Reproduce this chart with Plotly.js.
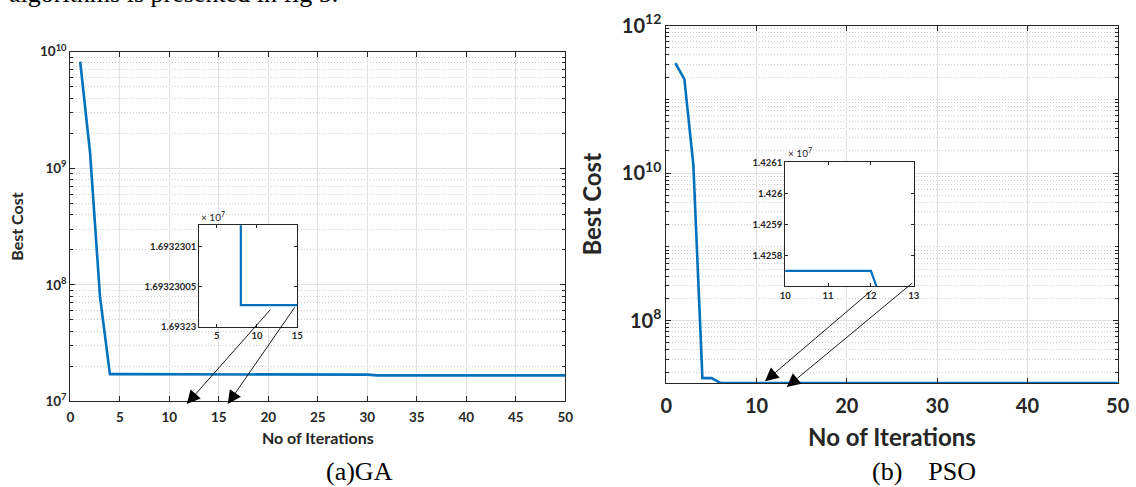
<!DOCTYPE html>
<html>
<head>
<meta charset="utf-8">
<script src="https://cdn.plot.ly/plotly-3.0.1.min.js"></script>
<style>
  html, body { margin: 0; padding: 0; background: #ffffff; }
  #chart { width: 1136px; height: 487px; }
</style>
</head>
<body>
<div id="chart"></div>
<script>
// ---------------- data ----------------
const iterations = [1,2,3,4,5,6,7,8,9,10,11,12,13,14,15,16,17,18,19,20,
  21,22,23,24,25,26,27,28,29,30,31,32,33,34,35,36,37,38,39,40,
  41,42,43,44,45,46,47,48,49,50];

// (a) GA best cost per iteration
const gaBestCost = [8.2e9, 1.35e9, 7.9e7, 1.71e7, 1.71e7, 1.71e7, 1.71e7,
  16932300.27, 16932300.27, 16932300.27, 16932300.27, 16932300.27, 16932300.27,
  16932300.27, 16932300.27, 16932300.27, 16932300.27, 16932300.27, 16932300.27,
  16932300.27, 16932300.27, 16932300.27, 16932300.27, 16932300.27, 16932300.27,
  16932300.27, 16932300.27, 16932300.27, 16932300.27, 16932300.27,
  1.67e7, 1.67e7, 1.67e7, 1.67e7, 1.67e7, 1.67e7, 1.67e7, 1.67e7, 1.67e7, 1.67e7,
  1.67e7, 1.67e7, 1.67e7, 1.67e7, 1.67e7, 1.67e7, 1.67e7, 1.67e7, 1.67e7, 1.67e7];

// (b) PSO best cost per iteration
const psoBestCost = [3.1e11, 1.87e11, 1.28e10, 1.66e7, 1.66e7,
  14257500, 14257500, 14257500, 14257500, 14257500, 14257500, 14257500,
  14253650, 14253650, 14253650, 14253650, 14253650, 14253650, 14253650, 14253650,
  14253650, 14253650, 14253650, 14253650, 14253650, 14253650, 14253650, 14253650,
  14253650, 14253650, 14253650, 14253650, 14253650, 14253650, 14253650, 14253650,
  14253650, 14253650, 14253650, 14253650, 14253650, 14253650, 14253650, 14253650,
  14253650, 14253650, 14253650, 14253650, 14253650, 14253650];

// tick values / labels
const gaYTickVals = [1e7, 1e8, 1e9, 1e10];
const gaYTickText = ['10<sup>7</sup>', '10<sup>8</sup>', '10<sup>9</sup>', '10<sup>10</sup>'];
const psoYTickVals = [1e8, 1e10, 1e12];
const psoYTickText = ['10<sup>8</sup>', '10<sup>10</sup>', '10<sup>12</sup>'];
const gaInsetXTicks = [5, 10, 15];
const gaInsetYTickVals = [16932300, 16932300.5, 16932301];
const gaInsetYTickText = ['1.69323', '1.69323005', '1.6932301'];
const psoInsetXTicks = [10, 11, 12, 13];
const psoInsetYTickVals = [14258000, 14259000, 14260000, 14261000];
const psoInsetYTickText = ['1.4258', '1.4259', '1.426', '1.4261'];

const xTitle = 'No of Iterations';
const yTitle = 'Best Cost';
const captionA = '(a)GA';
const captionB = '(b)\u00a0\u00a0\u00a0\u00a0PSO';
const topText = 'algorithms is presented in fig 5.';
const exponentLabel = '\u00d7 10<sup>7</sup>';

// arrows: head [x, log10 y] and tail [x, log10 y] in main-axis coordinates
const gaArrowHeads = [[11.76, 6.976], [15.9, 6.976]];
const gaArrowTails = [[20.34, 7.799], [22.77, 7.819]];
const psoArrowHeads = [[10.93, 7.176], [13.34, 7.098]];
const psoArrowTails = [[22.9, 8.425], [27.4, 8.524]];

// ---------------- layout helpers ----------------
const W = 1136, H = 487;
const px = v => v / W;
const py = v => 1 - v / H;

function minorLogTicks(k0, k1, majors) {
  const out = [];
  for (let k = k0; k <= k1; k++) {
    for (let m = 1; m <= 9; m++) {
      const v = m * Math.pow(10, k);
      if (!majors.some(t => Math.abs(t - v) / v < 1e-9)) out.push(v);
    }
  }
  return out;
}

const ink = '#262626';
const FONT = 'Lato, "Open Sans", sans-serif';
const blue = '#0072BD';

function boxAxis(extra) {
  return Object.assign({
    showline: true, linecolor: ink, linewidth: 1, mirror: 'allticks',
    ticks: 'inside', tickcolor: ink, tickwidth: 1, zeroline: false,
    fixedrange: true
  }, extra);
}

const traces = [
  { x: iterations, y: gaBestCost, xaxis: 'x', yaxis: 'y', type: 'scatter', mode: 'lines',
    line: { color: blue, width: 2.6 }, hoverinfo: 'skip', showlegend: false },
  { x: iterations, y: gaBestCost, xaxis: 'x2', yaxis: 'y2', type: 'scatter', mode: 'lines',
    line: { color: blue, width: 2.2 }, hoverinfo: 'skip', showlegend: false },
  { x: iterations, y: psoBestCost, xaxis: 'x3', yaxis: 'y3', type: 'scatter', mode: 'lines',
    line: { color: blue, width: 2.6 }, hoverinfo: 'skip', showlegend: false },
  { x: iterations, y: psoBestCost, xaxis: 'x4', yaxis: 'y4', type: 'scatter', mode: 'lines',
    line: { color: blue, width: 2.2 }, hoverinfo: 'skip', showlegend: false }
];

const smallFont = { family: FONT, size: 13.5, color: ink, weight: 'bold' };
const smallTitleFont = { family: FONT, size: 16, color: ink, weight: 'bold' };
const bigFont = { family: FONT, size: 20, color: ink, weight: 'bold' };
const bigTitleFont = { family: FONT, size: 24, color: ink, weight: 'bold' };
const insetFont = { family: FONT, size: 9.5, color: ink, weight: 'bold' };

const layout = {
  width: W, height: H, autosize: false,
  margin: { l: 0, r: 0, t: 0, b: 0, pad: 0 },
  paper_bgcolor: '#ffffff', plot_bgcolor: '#ffffff',
  font: { family: FONT, color: ink },
  showlegend: false,

  // (a) GA main
  xaxis: boxAxis({
    domain: [px(70.3), px(565.3)], anchor: 'y', range: [0, 50],
    tickmode: 'linear', tick0: 0, dtick: 5, ticklen: 5, ticklabelstandoff: 3,
    showgrid: true, gridcolor: '#e1e1e1', gridwidth: 1,
    tickfont: smallFont,
    title: { text: xTitle, font: smallTitleFont, standoff: 9 }
  }),
  yaxis: boxAxis({
    domain: [py(401.3), py(51.7)], anchor: 'x', type: 'log', range: [7, 10],
    tickmode: 'array', tickvals: gaYTickVals, ticktext: gaYTickText, ticklen: 5,
    showgrid: true, gridcolor: '#e1e1e1', gridwidth: 1,
    minor: { tickmode: 'array', tickvals: minorLogTicks(7, 9, gaYTickVals),
      ticks: 'inside', ticklen: 3, tickcolor: ink, tickwidth: 1,
      showgrid: true, gridcolor: '#cdcdcd', gridwidth: 1, griddash: '1px,2px' },
    tickfont: smallFont,
    title: { text: yTitle, font: smallTitleFont, standoff: 12 }
  }),

  // (a) GA inset
  xaxis2: boxAxis({
    domain: [px(199.3), px(297.3)], anchor: 'y2', range: [2.85, 15],
    tickmode: 'array', tickvals: gaInsetXTicks, ticklen: 3, showgrid: false,
    tickfont: insetFont
  }),
  yaxis2: boxAxis({
    domain: [py(326.7), py(225.3)], anchor: 'x2', range: [16932300, 16932301.268],
    tickmode: 'array', tickvals: gaInsetYTickVals, ticktext: gaInsetYTickText,
    ticklen: 3, showgrid: false, tickfont: insetFont
  }),

  // (b) PSO main
  xaxis3: boxAxis({
    domain: [px(666.3), px(1117.7)], anchor: 'y3', range: [0, 50],
    tickmode: 'linear', tick0: 0, dtick: 10, ticklen: 5, ticklabelstandoff: 5,
    showgrid: true, gridcolor: '#e1e1e1', gridwidth: 1,
    tickfont: bigFont,
    title: { text: xTitle, font: bigTitleFont, standoff: 13 }
  }),
  yaxis3: boxAxis({
    domain: [py(383), py(25.5)], anchor: 'x3', type: 'log', range: [7.1535, 12],
    tickmode: 'array', tickvals: psoYTickVals, ticktext: psoYTickText, ticklen: 5,
    showgrid: true, gridcolor: '#e1e1e1', gridwidth: 1,
    minor: { tickmode: 'array', tickvals: minorLogTicks(7, 11, psoYTickVals),
      ticks: 'inside', ticklen: 3, tickcolor: ink, tickwidth: 1,
      showgrid: true, gridcolor: '#cdcdcd', gridwidth: 1, griddash: '1px,2px' },
    tickfont: bigFont,
    title: { text: yTitle, font: bigTitleFont, standoff: 13 }
  }),

  // (b) PSO inset
  xaxis4: boxAxis({
    domain: [px(785.3), px(913.7)], anchor: 'y4', range: [10, 13],
    tickmode: 'array', tickvals: psoInsetXTicks, ticklen: 3, showgrid: false,
    tickfont: insetFont
  }),
  yaxis4: boxAxis({
    domain: [py(286.3), py(162.3)], anchor: 'x4', range: [14257000, 14261000],
    tickmode: 'array', tickvals: psoInsetYTickVals, ticktext: psoInsetYTickText,
    ticklen: 3, showgrid: false, tickfont: insetFont
  }),

  // white backgrounds under the insets (clipped to each inset's plot area)
  shapes: [
    { type: 'rect', xref: 'x2', yref: 'y2', layer: 'below',
      x0: -1000, x1: 1000, y0: 0, y1: 1e12, fillcolor: '#ffffff', line: { width: 0 } },
    { type: 'rect', xref: 'x4', yref: 'y4', layer: 'below',
      x0: -1000, x1: 1000, y0: 0, y1: 1e12, fillcolor: '#ffffff', line: { width: 0 } }
  ],

  annotations: []
};

function addArrows(heads, tails, xr, yr) {
  heads.forEach((h, i) => {
    layout.annotations.push({
      xref: xr, yref: yr, axref: xr, ayref: yr,
      x: h[0], y: h[1], ax: tails[i][0], ay: tails[i][1],
      text: '', showarrow: true, arrowhead: 2, arrowsize: 3.0, arrowwidth: 0.9,
      arrowcolor: '#000000', standoff: 0, startstandoff: 0
    });
  });
}
addArrows(gaArrowHeads, gaArrowTails, 'x', 'y');
addArrows(psoArrowHeads, psoArrowTails, 'x3', 'y3');

layout.annotations.push(
  { xref: 'paper', yref: 'paper', x: px(199), y: py(216), xanchor: 'left', yanchor: 'middle',
    text: exponentLabel, showarrow: false, font: { family: FONT, size: 10, color: ink } },
  { xref: 'paper', yref: 'paper', x: px(785.5), y: py(153), xanchor: 'left', yanchor: 'middle',
    text: exponentLabel, showarrow: false, font: { family: FONT, size: 10, color: ink } },
  { xref: 'paper', yref: 'paper', x: px(359), y: py(471.5), xanchor: 'center', yanchor: 'middle',
    text: captionA, showarrow: false,
    font: { family: '"Liberation Serif", "Times New Roman", serif', size: 26, color: '#000000' } },
  { xref: 'paper', yref: 'paper', x: px(924), y: py(471.5), xanchor: 'center', yanchor: 'middle',
    text: captionB, showarrow: false,
    font: { family: '"Liberation Serif", "Times New Roman", serif', size: 26, color: '#000000' } },
  { xref: 'paper', yref: 'paper', x: px(6.5), y: py(-6), xanchor: 'left', yanchor: 'middle',
    text: topText, showarrow: false,
    font: { family: '"Liberation Serif", "Times New Roman", serif', size: 26, color: '#000000' } }
);

Plotly.newPlot('chart', traces, layout, { displayModeBar: false, staticPlot: true });
</script>
</body>
</html>
